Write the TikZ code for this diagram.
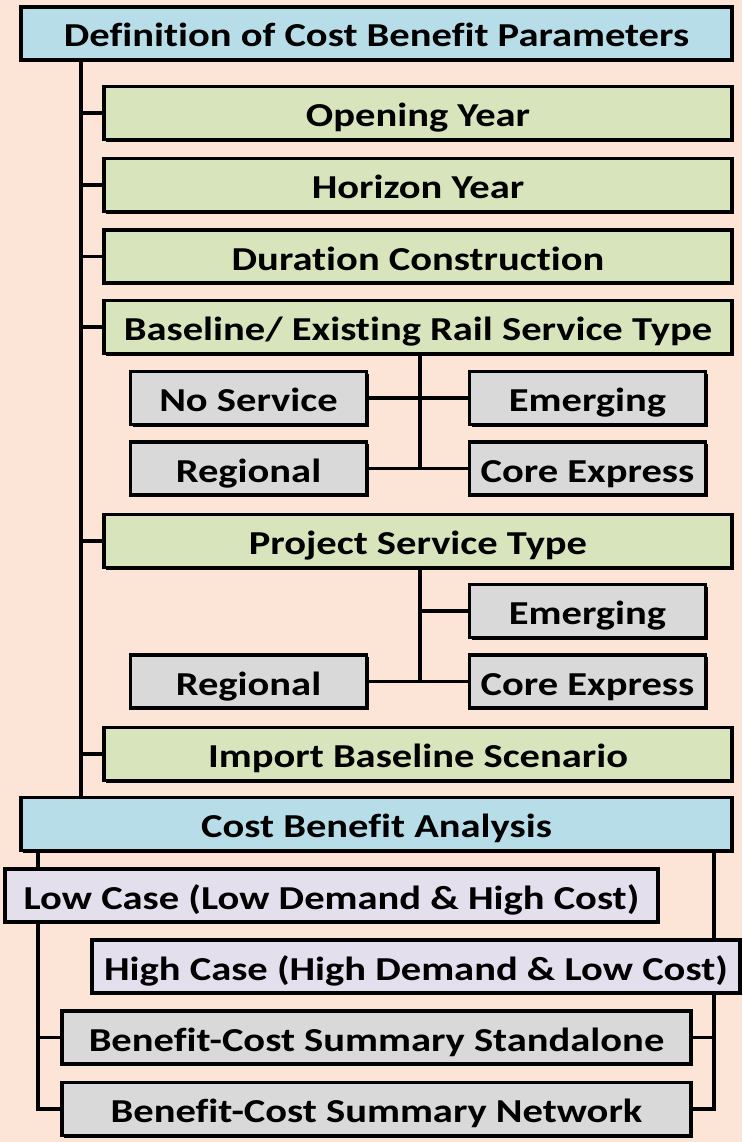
\documentclass[tikz,border=0pt]{standalone}
\usepackage{fontspec}
\setmainfont[FakeStretch=1.21, Ligatures=NoCommon]{Carlito}
\usetikzlibrary{shadows}
\definecolor{bgpeach}{RGB}{252,228,214}
\definecolor{hblue}{RGB}{183,222,232}
\definecolor{lgreen}{RGB}{216,228,188}
\definecolor{lgray}{RGB}{217,217,217}
\definecolor{lav}{RGB}{228,223,236}
\pgfdeclarelayer{bg}
\pgfdeclarelayer{lines}
\pgfsetlayers{bg,lines,main}
\tikzset{
  box/.style={draw=black, line width=3.2pt, rectangle, inner sep=0pt,
    text height=29pt, text depth=2pt,
    font=\bfseries\fontsize{33.5}{40}\selectfont,
    drop shadow={shadow xshift=2pt, shadow yshift=-2.4pt, fill=black, opacity=1}},
  headbox/.style={box, fill=hblue, minimum width=711pt, minimum height=53pt},
  parbox/.style={box, fill=lgreen, minimum width=628pt, minimum height=53pt},
  optbox/.style={box, fill=lgray, minimum width=236pt, minimum height=53pt},
  casebox/.style={box, fill=lav, minimum height=53pt},
  sumbox/.style={box, fill=lgray, minimum width=629pt, minimum height=53pt},
  conn/.style={draw=black, line width=3.2pt}
}
\begin{document}
\begin{tikzpicture}[x=1pt,y=-1pt]
\begin{pgfonlayer}{bg}
\fill[bgpeach] (0,0) rectangle (742,1142);
\end{pgfonlayer}
\useasboundingbox (0,0) rectangle (742,1142);

\node[headbox] (def) at (376.5,33.5) {Definition of Cost Benefit Parameters};
\node[parbox] (open) at (418,113) {Opening Year};
\node[parbox] (horizon) at (418,185) {Horizon Year};
\node[parbox] (dur) at (418,256.5) {Duration Construction};
\node[parbox] (base) at (418,327) {Baseline/ Existing Rail Service Type};
\node[optbox] (noserv) at (248.5,398) {No Service};
\node[optbox] (reg1) at (248.5,468.5) {Regional};
\node[optbox] (emerg1) at (587.5,398) {Emerging};
\node[optbox] (core1) at (587.5,468.5) {Core Express};
\node[parbox] (proj) at (418,541) {Project Service Type};
\node[optbox] (emerg2) at (587.5,611) {Emerging};
\node[optbox] (core2) at (587.5,681.5) {Core Express};
\node[optbox] (reg2) at (248.5,681.5) {Regional};
\node[parbox] (import) at (418,754) {Import Baseline Scenario};
\node[headbox] (cba) at (376.5,824) {Cost Benefit Analysis};
\node[casebox, minimum width=653pt] (low) at (331.5,895.5) {Low Case (Low Demand \& High Cost)};
\node[casebox, minimum width=648pt] (high) at (416,966.5) {High Case (High Demand \& Low Cost)};
\node[sumbox] (stand) at (376.5,1037.5) {Benefit-Cost Summary Standalone};
\node[sumbox] (net) at (376.5,1109) {Benefit-Cost Summary Network};

\coordinate (trunk) at (81,0);
\coordinate (sub) at (420,0);
\coordinate (cl) at (38,0);
\coordinate (cr) at (714,0);

\begin{pgfonlayer}{lines}
\draw[conn] (def.south -| trunk) -- (cba.north -| trunk);
\foreach \n in {open,horizon,dur,base,proj,import}
  \draw[conn] (\n.west -| trunk) -- (\n.west);
\draw[conn] (base.south -| sub) -- (reg1.east -| sub);
\draw[conn] (noserv.east) -- (emerg1.west);
\draw[conn] (reg1.east) -- (core1.west);
\draw[conn] (proj.south -| sub) -- (reg2.east -| sub);
\draw[conn] (emerg2.west -| sub) -- (emerg2.west);
\draw[conn] (reg2.east) -- (core2.west);
\draw[conn] (cba.south -| cl) -- (net.west -| cl) -- (net.west);
\draw[conn] (stand.west -| cl) -- (stand.west);
\draw[conn] (cba.south -| cr) -- (net.east -| cr) -- (net.east);
\draw[conn] (stand.east -| cr) -- (stand.east);
\end{pgfonlayer}
\end{tikzpicture}
\end{document}
